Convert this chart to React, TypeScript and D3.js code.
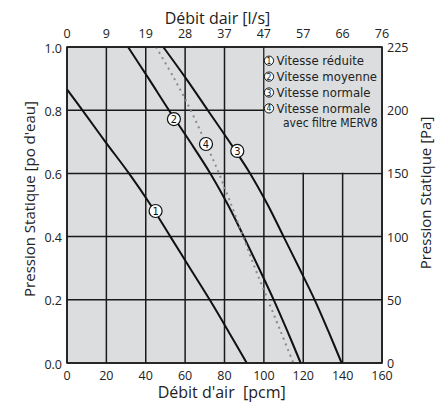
import * as d3 from 'd3';
import React from 'react';

// Débit d'air (pcm) vs pression statique (po d'eau)
const pcmTicks = [0, 20, 40, 60, 80, 100, 120, 140, 160];
const lsLabels = ['0', '9', '19', '28', '37', '47', '57', '66', '76'];
const pressureTicks = [0, 0.2, 0.4, 0.6, 0.8, 1.0];
const paLabels = ['0', '50', '100', '150', '200', '225'];

const curve1: [number, number][] = [
  [0, 0.866], [7.8, 0.8], [19.5, 0.7], [31.5, 0.6], [42.5, 0.5], [52.5, 0.4],
  [62.5, 0.3], [72.5, 0.2], [82, 0.1], [91.3, 0],
];
const curve2: [number, number][] = [
  [31, 1.0], [41.5, 0.9], [51.8, 0.8], [62.5, 0.7], [72.8, 0.6], [81.8, 0.5],
  [89.8, 0.4], [97.5, 0.3], [105, 0.2], [112, 0.1], [118.7, 0],
];
const curve3: [number, number][] = [
  [48.9, 1.0], [60.5, 0.9], [71.5, 0.8], [82.5, 0.7], [93, 0.6], [102, 0.5],
  [110, 0.4], [118, 0.3], [125.8, 0.2], [132.8, 0.1], [139.5, 0],
];
const curve4: [number, number][] = [
  [45.2, 1.0], [54.5, 0.9], [62.8, 0.8], [70.2, 0.7], [77.2, 0.6], [83.5, 0.5],
  [89.5, 0.4], [95.5, 0.3], [102, 0.2], [108.5, 0.1], [115, 0],
];

const curveLabels = [
  { id: '1', pcm: 45, p: 0.481 },
  { id: '2', pcm: 54.3, p: 0.772 },
  { id: '4', pcm: 70.6, p: 0.693 },
  { id: '3', pcm: 86.5, p: 0.671 },
];

const legendItems = ['Vitesse réduite', 'Vitesse moyenne', 'Vitesse normale', 'Vitesse normale'];
const legendExtra = 'avec filtre MERV8';

const width = 446;
const height = 404;
const margin = { top: 47, right: 64, bottom: 41, left: 67 };
const tickFont = "'Open Sans', 'DejaVu Sans', sans-serif";
const legendFont = "'Liberation Sans Narrow', 'DejaVu Sans Condensed', sans-serif";

export default function App() {
  const x = d3.scaleLinear().domain([0, 160]).range([margin.left, width - margin.right]);
  const y = d3.scaleLinear().domain([0, 1]).range([height - margin.bottom, margin.top]);

  const line = d3.line<[number, number]>()
    .curve(d3.curveCatmullRom)
    .x((d) => x(d[0]))
    .y((d) => y(d[1]));

  const gridColor = '#1a1a1a';

  return (
    <svg width={width} height={height} style={{ position: 'absolute', left: 0, top: 0, background: '#fff' }}>
      <rect x={x(0)} y={y(1)} width={x(160) - x(0)} height={y(0) - y(1)} fill="#dcdddf" />

      {/* grid */}
      {pcmTicks.map((t) => (
        <line key={'v' + t} x1={x(t)} x2={x(t)} y1={y(0)} y2={y(1)} stroke={gridColor} strokeWidth={1.5} />
      ))}
      {pressureTicks.map((t) => (
        <line key={'h' + t} x1={x(0)} x2={x(160)} y1={y(t)} y2={y(t)} stroke={gridColor} strokeWidth={1.5} />
      ))}

      {/* legend box hides grid */}
      <rect x={x(100) + 0.75} y={y(1) + 0.75} width={x(160) - x(100) - 1.5} height={y(0.6) - y(1) - 1.5} fill="#dcdddf" />

      {/* curves */}
      <path d={line(curve1) || ''} fill="none" stroke="#111" strokeWidth={2} />
      <path d={line(curve2) || ''} fill="none" stroke="#111" strokeWidth={2} />
      <path d={line(curve3) || ''} fill="none" stroke="#111" strokeWidth={2} />
      <path d={line(curve4) || ''} fill="none" stroke="#8a8a8a" strokeWidth={2} strokeDasharray="2,4" />

      {/* curve number markers */}
      {curveLabels.map((c) => (
        <g key={'c' + c.id} transform={`translate(${x(c.pcm)},${y(c.p)})`}>
          <circle r={6.5} fill="#fff" stroke="#111" strokeWidth={1.2} />
          <text textAnchor="middle" dy="0.36em" fontSize={11} fontFamily={legendFont} fill="#111">{c.id}</text>
        </g>
      ))}

      {/* legend */}
      {legendItems.map((label, i) => {
        const cy = 60.7 + i * 15.9;
        return (
          <g key={'l' + i}>
            <circle cx={269} cy={cy} r={4.6} fill="#fff" stroke="#111" strokeWidth={1} />
            <text x={269} y={cy} textAnchor="middle" dy="0.36em" fontSize={8.5} fontFamily={legendFont} fill="#111">{i + 1}</text>
            <text x={276.5} y={cy} dy="0.36em" fontSize={13} fontFamily={legendFont} fill="#222">{label}</text>
          </g>
        );
      })}
      <text x={283} y={122.7} dy="0.36em" fontSize={12} fontFamily={legendFont} fill="#222">{legendExtra}</text>

      {/* border */}
      <rect x={x(0)} y={y(1)} width={x(160) - x(0)} height={y(0) - y(1)} fill="none" stroke={gridColor} strokeWidth={1.5} />

      {/* left ticks */}
      {pressureTicks.map((t) => (
        <text key={'lt' + t} x={x(0) - 5} y={y(t) + 5.5} textAnchor="end" fontSize={12.5} fontFamily={tickFont} fill="#222">
          {t.toFixed(1)}
        </text>
      ))}
      {/* right ticks */}
      {pressureTicks.map((t, i) => (
        <text key={'rt' + t} x={x(160) + 5} y={y(t) + 5} textAnchor="start" fontSize={12.5} fontFamily={tickFont} fill="#222">
          {paLabels[i]}
        </text>
      ))}
      {/* bottom ticks */}
      {pcmTicks.map((t) => (
        <text key={'bt' + t} x={x(t)} y={y(0) + 16.5} textAnchor="middle" fontSize={12.5} fontFamily={tickFont} fill="#222">
          {t}
        </text>
      ))}
      {/* top ticks */}
      {pcmTicks.map((t, i) => (
        <text key={'tt' + t} x={x(t)} y={y(1) - 9} textAnchor="middle" fontSize={12.5} fontFamily={tickFont} fill="#222">
          {lsLabels[i]}
        </text>
      ))}

      {/* axis titles */}
      <text x={217.5} y={23.5} textAnchor="middle" fontSize={16} fontFamily={tickFont} fill="#222">Débit dair [l/s]</text>
      <text x={221.7} y={398.3} textAnchor="middle" fontSize={16} fontFamily={tickFont} fill="#222" style={{ whiteSpace: 'pre' }}>
        {"Débit d'air  [pcm]"}
      </text>
      <text transform={`translate(35,199) rotate(-90)`} textAnchor="middle" fontSize={15} fontFamily={tickFont} fill="#222">
        {"Pression Statique [po d'eau]"}
      </text>
      <text transform={`translate(431,193) rotate(-90)`} textAnchor="middle" fontSize={15} fontFamily={tickFont} fill="#222">
        Pression Statique [Pa]
      </text>
    </svg>
  );
}
